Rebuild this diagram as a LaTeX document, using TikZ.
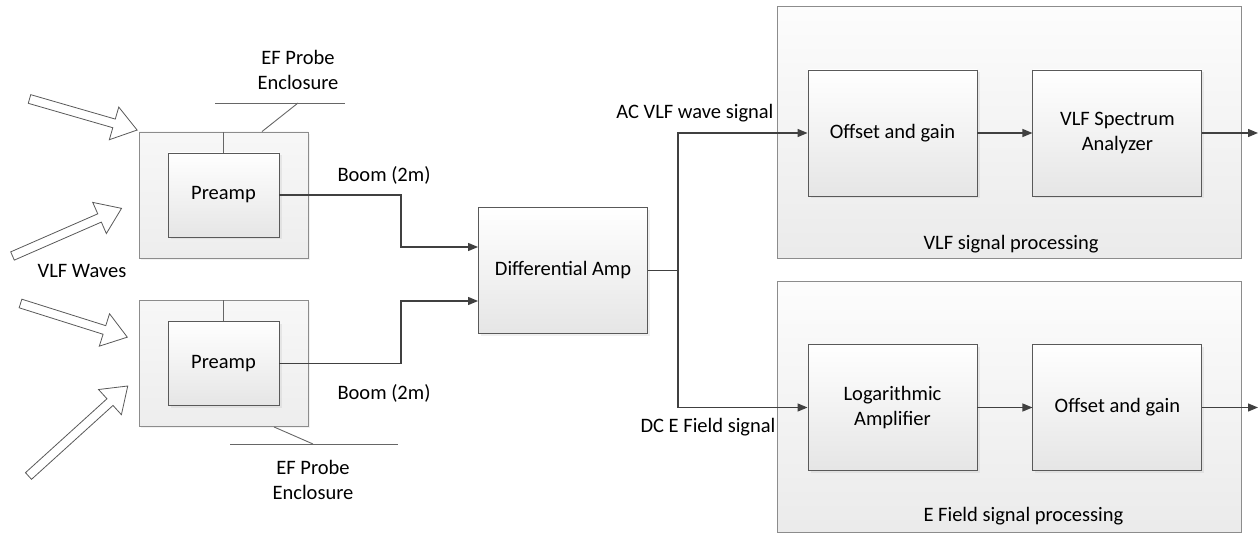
\documentclass[tikz,border=0pt]{standalone}
\usepackage{fontspec}
\setmainfont{Carlito}
\usepackage{tikz}
\usetikzlibrary{positioning, arrows.meta, shadows, calc}

\definecolor{wirecol}{HTML}{404040}
\definecolor{edgecol}{HTML}{595959}
\definecolor{rimcol}{HTML}{8C8C8C}

\begin{document}
\begin{tikzpicture}[
  x=1pt, y=-1pt,
  font=\fontsize{20.5}{24.5}\selectfont,
  blk/.style={draw=edgecol, line width=0.9pt, top color=white,
    bottom color=black!10, minimum width=169pt, minimum height=126pt,
    inner sep=0pt, align=center,
    drop shadow={opacity=0.12, shadow xshift=2.5pt, shadow yshift=-2.5pt}},
  pre/.style={blk, minimum width=111pt, minimum height=84pt},
  encl/.style={draw=rimcol, line width=0.9pt, top color=black!3,
    bottom color=black!7, minimum width=169pt, minimum height=126pt,
    inner sep=0pt,
    drop shadow={opacity=0.1, shadow xshift=2pt, shadow yshift=-2pt}},
  grp/.style={draw=rimcol, line width=1pt, top color=black!1,
    bottom color=black!8, minimum width=464pt, minimum height=252pt,
    inner sep=0pt},
  sig/.style={draw=wirecol, line width=1.3pt,
    -{Triangle[length=10pt, width=8pt]}},
  lead/.style={draw=wirecol, line width=1.3pt},
  tie/.style={draw=wirecol!80, line width=0.9pt},
  pics/wave/.style={code={
    \draw[draw=black!65, fill=white, line width=0.8pt, line join=miter]
      (0,-4.5) -- (#1-24,-4.5) -- (#1-24,-17) -- (#1,0) -- (#1-24,17)
      -- (#1-24,4.5) -- (0,4.5) -- cycle;}},
]
  \useasboundingbox (0,0) rectangle (1259,534);

  % incoming waves
  \pic[rotate=-16.1] at (29.5,99) {wave=112};
  \pic[rotate=23.6] at (12.5,256) {wave=119};
  \pic[rotate=-17.5] at (20.5,303.5) {wave=112};
  \pic[rotate=42.2] at (28.5,476) {wave=134};
  \node (waves) at (82,271) {VLF Waves};

  % probes
  \node[encl] (encl1) at (223.5,195) {};
  \node[pre] (pre1) at (encl1.center) {Preamp};
  \node[encl] (encl2) at (223.5,363.5) {};
  \node[pre] (pre2) at (encl2.center) {Preamp};
  \draw[tie] (pre1.north) -- (pre1.north |- encl1.north);
  \draw[tie] (pre2.north) -- (pre2.north |- encl2.north);

  \node[align=center] (probe1) at (298,70) {EF Probe\\Enclosure};
  \node[align=center] (probe2) at (313,480) {EF Probe\\Enclosure};
  \coordinate (rule1l) at (215,103);
  \coordinate (rule1r) at (345,103);
  \coordinate (rule1k) at (298,103);
  \coordinate (rule2l) at (230,444);
  \coordinate (rule2r) at (398,444);
  \coordinate (rule2k) at (313,444);
  \draw[tie] (rule1l) -- (rule1r);
  \draw[tie] ([xshift=38.5pt]encl1.north) -- (rule1k);
  \draw[tie] (rule2l) -- (rule2r);
  \draw[tie] ([xshift=50.5pt]encl2.south) -- (rule2k);

  % front end
  \node[blk] (diff) at (563,270.5) {Differential Amp};
  \node (boom1) at (384,175) {Boom (2m)};
  \node (boom2) at (384,393) {Boom (2m)};
  \coordinate (j1) at (401,247);
  \coordinate (j2) at (401,301);
  \draw[sig] (pre1.east) -| (j1) -- (j1 -| diff.west);
  \draw[sig] (pre2.east) -| (j2) -- (j2 -| diff.west);

  % processing chains
  \node[grp] (vlf) at (1009,133) {};
  \node[grp, minimum height=250pt] (efld) at (1009,407) {};
  \node[anchor=west] (vlflbl) at (920,244) {VLF signal processing};
  \node[anchor=west] (efldlbl) at (920,516) {E Field signal processing};

  \node[blk] (offs1) at (892.5,133) {Offset and gain};
  \node[blk, right=55pt of offs1] (spec) {VLF Spectrum\\Analyzer};
  \node[blk] (logamp) at (892.5,407.5) {Logarithmic\\Amplifier};
  \node[blk, right=55pt of logamp] (offs2) {Offset and gain};

  \node[anchor=east] (acsig) at (777,113) {AC VLF wave signal};
  \node[anchor=east] (dcsig) at (779,427) {DC E Field signal};

  \coordinate (fork) at (678,270.5);
  \coordinate (out1) at (1258,133);
  \coordinate (out2) at (1258,407.5);
  \draw[lead] (diff.east) -- (fork);
  \draw[sig] (fork) |- (offs1.west);
  \draw[sig] (fork) |- (logamp.west);
  \draw[sig] (offs1) -- (spec);
  \draw[sig] (logamp) -- (offs2);
  \draw[sig] (spec.east) -- (out1);
  \draw[sig] (offs2.east) -- (out2);
\end{tikzpicture}
\end{document}
